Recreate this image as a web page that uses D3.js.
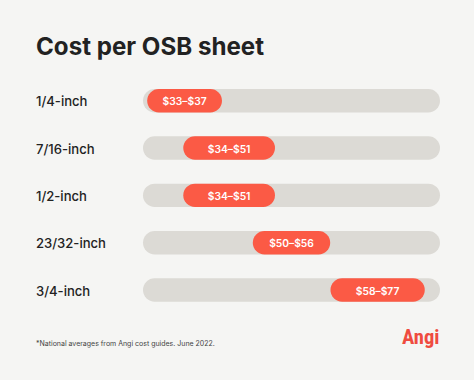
<!DOCTYPE html>
<html>
<head>
<meta charset="utf-8">
<script src="https://cdn.jsdelivr.net/npm/d3@7"></script>
<style>
  html, body { margin: 0; padding: 0; background: #f5f5f3; }
  svg { display: block; }
</style>
</head>
<body>
<svg id="chart" width="474" height="380"></svg>
<script>
// ---- data ----
const categories = ["1/4-inch", "7/16-inch", "1/2-inch", "23/32-inch", "3/4-inch"];
const lowValues  = [33, 34, 34, 50, 58];
const highValues = [37, 51, 51, 56, 77];
const title = "Cost per OSB sheet";
const footnote = "*National averages from Angi cost guides. June 2022.";
const brand = "Angi";

const W = 474, H = 380;
const svg = d3.select("#chart");
const font = "Inter, 'Noto Sans', 'DejaVu Sans', sans-serif";

svg.append("rect").attr("width", W).attr("height", H).attr("fill", "#f5f5f3");

// fit font size so the text spans a target width
function fit(sel, target) {
  let fs = parseFloat(sel.attr("font-size"));
  const w = sel.node().getComputedTextLength();
  if (w > 0) sel.attr("font-size", (fs * target / w).toFixed(2));
  return sel;
}

// title
fit(svg.append("text")
  .attr("x", 36).attr("y", 54.5)
  .attr("font-family", font).attr("font-weight", 700).attr("font-size", 26)
  .attr("fill", "#222").text(title), 228);

// scales
const trackLeft = 143, trackRight = 440;
const x = d3.scaleLinear().domain([28, 78]).range([trackLeft, trackRight]);
const y = d3.scalePoint().domain(categories).range([100.7, 290]);
const barH = 23.4;

const data = categories.map((c, i) => ({ c, lo: lowValues[i], hi: highValues[i] }));

const rows = svg.selectAll("g.row").data(data).join("g").attr("class", "row");

// tracks
rows.append("rect")
  .attr("x", trackLeft).attr("width", trackRight - trackLeft)
  .attr("y", d => y(d.c) - barH / 2).attr("height", barH)
  .attr("rx", barH / 2).attr("fill", "#dcdad5");

// pills
const pillW = d => 69.6 + 1.3 * (d.hi - d.lo);
rows.append("rect")
  .attr("x", d => x((d.lo + d.hi) / 2) - pillW(d) / 2)
  .attr("width", pillW)
  .attr("y", d => y(d.c) - barH / 2).attr("height", barH)
  .attr("rx", barH / 2).attr("fill", "#fb5a45");

// pill labels
const pillText = rows.append("text")
  .attr("x", d => x((d.lo + d.hi) / 2))
  .attr("y", d => y(d.c) + 4.5)
  .attr("text-anchor", "middle")
  .attr("font-family", font).attr("font-weight", 600).attr("font-size", 12.5)
  .attr("fill", "#fff")
  .text(d => `$${d.lo}–$${d.hi}`);
{
  const w0 = pillText.nodes()[0].getComputedTextLength();
  const fs = 12.5 * 44 / w0;
  pillText.attr("font-size", fs.toFixed(2));
}

// row labels
const labels = rows.append("text")
  .attr("x", 36).attr("y", d => y(d.c) + 5.6)
  .attr("font-family", font).attr("font-weight", 500).attr("font-size", 15)
  .attr("fill", "#222").text(d => d.c);
{
  const w0 = labels.nodes()[0].getComputedTextLength();
  labels.attr("font-size", (15 * 51.5 / w0).toFixed(2));
}

// footnote
fit(svg.append("text")
  .attr("x", 36).attr("y", 345.5)
  .attr("font-family", font).attr("font-weight", 400).attr("font-size", 9.5)
  .attr("fill", "#444").text(footnote), 179);

// brand
fit(svg.append("text")
  .attr("x", 402).attr("y", 343.5)
  .attr("font-family", "'Roboto Condensed', 'Liberation Sans Narrow', 'DejaVu Sans Condensed', sans-serif")
  .attr("font-weight", 700).attr("font-size", 22)
  .attr("fill", "#ef4b3f").text(brand), 37.5);
</script>
</body>
</html>
